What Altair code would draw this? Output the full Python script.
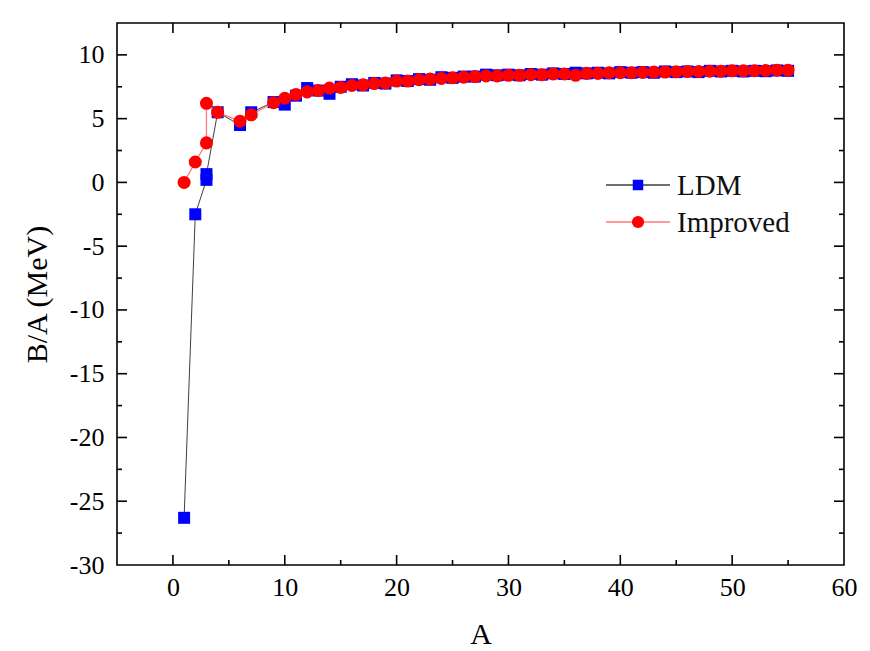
import altair as alt
import pandas as pd

# ---- data ----
A = [1, 2, 3, 3, 4, 6, 7, 9, 10, 11, 12, 13, 14, 15, 16, 17, 18, 19, 20, 21, 22,
     23, 24, 25, 26, 27, 28, 29, 30, 31, 32, 33, 34, 35, 36, 37, 38, 39, 40, 41,
     42, 43, 44, 45, 46, 47, 48, 49, 50, 51, 52, 53, 54, 55]
LDM = [-26.3, -2.5, 0.2, 0.65, 5.5, 4.5, 5.5, 6.3, 6.1, 6.8, 7.4, 7.2, 6.95, 7.5,
       7.7, 7.6, 7.8, 7.75, 8.0, 7.95, 8.1, 8.05, 8.25, 8.2, 8.3, 8.3, 8.45, 8.4,
       8.45, 8.4, 8.5, 8.45, 8.55, 8.5, 8.6, 8.55, 8.6, 8.55, 8.65, 8.6, 8.65, 8.6,
       8.7, 8.65, 8.7, 8.65, 8.75, 8.7, 8.75, 8.7, 8.75, 8.72, 8.78, 8.75]
IMPROVED = [0.0, 1.6, 3.1, 6.2, 5.5, 4.8, 5.3, 6.25, 6.6, 6.9, 7.1, 7.2, 7.4, 7.45,
            7.6, 7.65, 7.75, 7.8, 7.95, 7.95, 8.05, 8.1, 8.15, 8.2, 8.25, 8.3, 8.35,
            8.35, 8.4, 8.4, 8.45, 8.45, 8.5, 8.5, 8.4, 8.55, 8.55, 8.6, 8.6, 8.6,
            8.62, 8.65, 8.65, 8.68, 8.7, 8.7, 8.72, 8.72, 8.75, 8.75, 8.76, 8.78,
            8.8, 8.8]
SERIES = ["LDM", "Improved"]
X_LABELS = [0, 10, 20, 30, 40, 50, 60]
X_MINOR = [5, 15, 25, 35, 45, 55]
Y_LABELS = [-30, -25, -20, -15, -10, -5, 0, 5, 10]
Y_MAJOR = [-25, -20, -15, -10, -5, 0, 5, 10]
Y_MINOR = [-27.5, -22.5, -17.5, -12.5, -7.5, -2.5, 2.5, 7.5]

W, H = 727, 542
FONT = "Liberation Serif"
MAJ, MIN = 10, 5

xs = alt.Scale(domain=[-5, 60], nice=False, zero=False)
ys = alt.Scale(domain=[-30, 12.5], nice=False, zero=False)

df = pd.DataFrame({"i": list(range(len(A))), "A": A, "LDM": LDM, "Improved": IMPROVED})

x_axis = alt.Axis(values=X_LABELS, ticks=False, domain=False, grid=False,
                  labelExpr="'' + datum.value",
                  labelFont=FONT, labelFontSize=26, labelPadding=9, labelFlush=False,
                  labelColor="black", title="A", titleFont=FONT, titleFontSize=30,
                  titleFontWeight="normal", titleColor="black", titlePadding=19)
y_axis = alt.Axis(values=Y_LABELS, ticks=False, domain=False, grid=False,
                  labelExpr="'' + datum.value",
                  labelFont=FONT, labelFontSize=26, labelPadding=13,
                  labelColor="black", title="B/A (MeV)", titleFont=FONT,
                  titleFontSize=30, titleFontWeight="normal", titleColor="black",
                  titlePadding=17)

base = alt.Chart(df)
ldm_line = base.mark_line(color="#404040", strokeWidth=1).encode(
    x=alt.X("A:Q", scale=xs, axis=x_axis),
    y=alt.Y("LDM:Q", scale=ys, axis=y_axis),
    order="i:Q")
ldm_pts = base.mark_point(shape="square", filled=True, color="#0000FF", size=144, opacity=1).encode(
    x=alt.X("A:Q", scale=xs), y=alt.Y("LDM:Q", scale=ys))
imp_line = base.mark_line(color="#FF7A7A", strokeWidth=1.3).encode(
    x=alt.X("A:Q", scale=xs), y=alt.Y("Improved:Q", scale=ys),
    order="i:Q")
imp_pts = base.mark_point(shape="circle", filled=True, color="#FF0000", size=170, opacity=1).encode(
    x=alt.X("A:Q", scale=xs), y=alt.Y("Improved:Q", scale=ys))

# inward ticks on all four sides
def xticks(vals, length):
    d = pd.DataFrame({"v": vals})
    bottom = alt.Chart(d).mark_rule(color="black", strokeWidth=1.6).encode(
        x=alt.X("v:Q", scale=xs), y=alt.value(H), y2=alt.value(H - length))
    top = alt.Chart(d).mark_rule(color="black", strokeWidth=1.6).encode(
        x=alt.X("v:Q", scale=xs), y=alt.value(0), y2=alt.value(length))
    return [bottom, top]

def yticks(vals, length):
    d = pd.DataFrame({"v": vals})
    left = alt.Chart(d).mark_rule(color="black", strokeWidth=1.6).encode(
        y=alt.Y("v:Q", scale=ys), x=alt.value(0), x2=alt.value(length))
    right = alt.Chart(d).mark_rule(color="black", strokeWidth=1.6).encode(
        y=alt.Y("v:Q", scale=ys), x=alt.value(W), x2=alt.value(W - length))
    return [left, right]

tick_layers = xticks(X_LABELS[:-1], MAJ) + xticks(X_MINOR, MIN) + \
    yticks(Y_MAJOR, MAJ) + yticks(Y_MINOR, MIN)

# manual legend (line + marker + label)
leg = pd.DataFrame({"name": SERIES})
def legend_item(name, ycen, line_color, marker_shape, marker_color, msize):
    d = leg[leg["name"] == name]
    line = alt.Chart(d).mark_rule(color=line_color, strokeWidth=1.3).encode(
        x=alt.value(489), x2=alt.value(553), y=alt.value(ycen))
    mark = alt.Chart(d).mark_point(shape=marker_shape, filled=True, color=marker_color,
                                   size=msize, opacity=1).encode(
        x=alt.value(521), y=alt.value(ycen))
    txt = alt.Chart(d).mark_text(align="left", baseline="middle", font=FONT, fontSize=29,
                                 color="#111111").encode(
        x=alt.value(560), y=alt.value(ycen + 1), text="name:N")
    return [line, mark, txt]

legend_layers = legend_item("LDM", 162, "#404040", "square", "#0000FF", 110) + \
    legend_item("Improved", 199, "#FF7A7A", "circle", "#FF0000", 150)

chart = alt.layer(ldm_line, ldm_pts, imp_line, imp_pts, *tick_layers, *legend_layers).properties(
    width=W, height=H,
    background="white",
    padding={"left": 14, "top": 14, "right": 5, "bottom": 5},
).configure_view(stroke="black", strokeWidth=1.6)

chart.save("out.html", embed_options={"renderer": "svg", "actions": False})
